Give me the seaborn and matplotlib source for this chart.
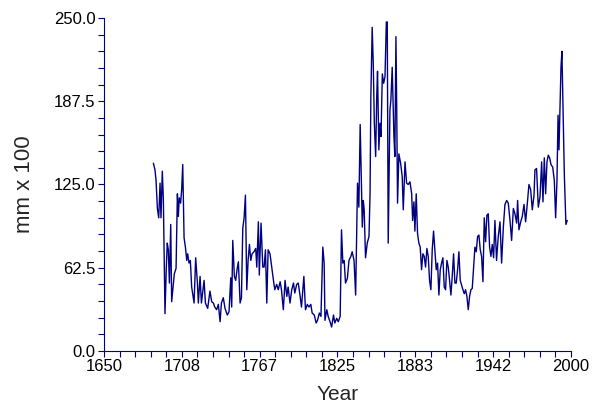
import numpy as np
import pandas as pd
import seaborn as sns
import matplotlib.pyplot as plt

# values (year, mm x 100)
year = [1687.0, 1688.2, 1689.0, 1690.0, 1691.0, 1692.0, 1692.7, 1693.7, 1694.5, 1695.7,
        1696.7, 1697.4, 1698.2, 1699.0, 1700.0, 1700.7, 1702.0, 1702.7, 1704.0, 1705.0,
        1705.7, 1706.4, 1707.4, 1708.2, 1709.0, 1710.0, 1711.0, 1712.0, 1712.7, 1713.7,
        1714.7, 1715.7, 1717.5, 1718.7, 1720.0, 1720.7, 1722.0, 1723.0, 1725.0, 1726.0,
        1727.7, 1729.4, 1730.7, 1732.0, 1733.0, 1734.4, 1735.7, 1737.0, 1738.0, 1739.4,
        1740.7, 1742.4, 1743.7, 1745.0, 1745.7, 1746.5, 1747.7, 1748.7, 1749.7, 1750.7,
        1752.0, 1753.0, 1754.0, 1755.0, 1756.0, 1757.0, 1758.0, 1759.0, 1760.0, 1761.0,
        1762.4, 1763.7, 1764.5, 1765.7, 1766.4, 1767.7, 1769.0, 1770.0, 1771.0, 1772.0,
        1773.0, 1774.4, 1775.7, 1777.0, 1778.0, 1779.4, 1780.6, 1782.0, 1783.0, 1784.4,
        1785.7, 1787.0, 1788.0, 1789.4, 1790.7, 1792.0, 1793.0, 1794.4, 1795.6, 1797.0,
        1798.0, 1799.8, 1801.0, 1802.4, 1803.6, 1805.0, 1806.0, 1807.6, 1809.0, 1810.0,
        1811.4, 1812.6, 1814.0, 1815.0, 1815.6, 1817.0, 1818.0, 1819.4, 1820.6, 1822.0,
        1823.0, 1824.4, 1825.6, 1827.0, 1828.0, 1829.0, 1830.0, 1831.0, 1832.4, 1833.6,
        1835.0, 1836.0, 1837.4, 1838.6, 1840.0, 1841.0, 1842.0, 1842.6, 1843.6, 1844.3,
        1845.0, 1846.0, 1847.3, 1848.6, 1849.4, 1850.0, 1851.0, 1851.8, 1852.6, 1853.6,
        1854.4, 1855.0, 1856.0, 1856.8, 1857.6, 1858.6, 1859.6, 1860.6, 1861.6, 1862.3,
        1863.0, 1864.3, 1865.0, 1866.0, 1867.3, 1868.0, 1868.8, 1869.4, 1870.0, 1871.0,
        1872.3, 1873.5, 1874.3, 1875.6, 1876.8, 1878.0, 1879.3, 1880.6, 1881.3, 1882.3,
        1883.0, 1884.0, 1885.0, 1886.0, 1887.0, 1888.0, 1889.0, 1890.0, 1891.0, 1892.0,
        1893.0, 1894.0, 1895.0, 1896.0, 1897.0, 1898.0, 1899.0, 1900.0, 1901.0, 1902.0,
        1903.0, 1904.0, 1905.0, 1906.0, 1907.0, 1908.0, 1909.0, 1910.0, 1911.0, 1912.0,
        1913.0, 1914.0, 1915.0, 1916.0, 1917.0, 1918.0, 1919.0, 1920.0, 1921.0, 1922.0,
        1923.0, 1924.0, 1925.0, 1926.0, 1927.0, 1928.0, 1929.0, 1930.0, 1931.0, 1932.0,
        1933.0, 1934.0, 1935.0, 1936.0, 1937.0, 1938.0, 1939.0, 1940.0, 1941.0, 1942.0,
        1943.0, 1944.2, 1945.5, 1946.8, 1948.0, 1949.3, 1950.5, 1951.8, 1953.0, 1954.3,
        1955.5, 1956.8, 1958.0, 1959.3, 1960.0, 1961.0, 1962.3, 1963.5, 1964.8, 1966.0,
        1967.3, 1968.5, 1969.8, 1971.0, 1972.3, 1973.0, 1974.2, 1975.5, 1976.8, 1978.0,
        1979.0, 1980.0, 1981.0, 1982.0, 1983.0, 1984.0, 1985.0, 1986.3, 1987.5, 1988.5,
        1989.5, 1990.3, 1991.0, 1991.8, 1992.5, 1993.2, 1994.0, 1995.0, 1996.2, 1997.2]

value = [141, 136, 128, 107, 100, 126, 100, 135, 113, 28,
         63, 81, 76, 51, 95, 37, 51, 58, 62, 118,
         101, 115, 111, 121, 140, 85, 78, 68, 73, 66,
         68, 48, 36, 70, 51, 36, 56, 36, 53, 36,
         32, 45, 37, 36, 33, 31, 35, 22, 36, 40,
         32, 27, 29.5, 55, 33, 83, 56, 53, 61, 67,
         36, 40, 92, 100, 117, 46, 68, 80, 68, 73,
         74.5, 77, 63, 97, 57, 96, 63, 63, 76, 36,
         76, 73, 63, 53, 46, 50, 46, 52, 46, 31,
         53, 41, 48, 36, 46, 51, 43.5, 50, 51, 41,
         33, 56, 31, 35, 33, 35, 28.5, 27, 21, 23,
         28.5, 26, 78, 66, 23, 31, 26, 22, 18, 27,
         21, 24.5, 22, 26, 91, 66, 68, 51, 54.5, 68,
         71, 74.5, 68, 42, 126, 108, 170, 141, 93, 113,
         106, 70, 81, 86, 118, 191, 243, 216, 171, 146,
         191, 210, 151, 171, 161, 208, 201, 206, 247, 247,
         81, 181, 188, 213, 161, 146, 236, 181, 111, 148,
         141, 131, 106, 142, 126, 125, 127, 118, 98, 112,
         90, 118, 88, 81, 78, 61, 73, 71, 63, 77,
         71, 53, 46, 76, 90, 76, 61, 66, 42, 61,
         66, 70, 48, 46, 68, 63, 53, 42, 56, 73,
         51, 51, 61, 74.5, 53, 49.5, 46, 43, 46, 41,
         31, 41, 46, 47, 63, 78, 74.5, 86, 87, 76,
         71, 52, 100, 82, 102, 103, 78, 71, 80, 70,
         98, 68, 86, 97, 66, 93, 110, 113, 111, 98,
         83, 107, 103, 96, 113, 91, 97, 101, 110, 97,
         111, 125, 121, 106, 117, 136, 137, 108, 116, 142,
         112, 145, 118, 142, 147, 145, 140, 138, 128, 100,
         128, 177, 151, 183, 213, 225, 183, 133, 95, 98]

x_ticks = [1650, 1708.33, 1766.67, 1825, 1883.33, 1941.67, 2000]
x_labels = ['1650', '1708', '1767', '1825', '1883', '1942', '2000']
y_ticks = [0, 62.5, 125, 187.5, 250]
y_labels = ['0.0', '62.5', '125.0', '187.5', '250.0']

df = pd.DataFrame({'year': year, 'value': value})

sns.set_style("white")
plt.rcParams['font.family'] = ['Liberation Sans', 'DejaVu Sans']
navy = '#000080'

fig = plt.figure(figsize=(5.92, 4.07), dpi=100)
ax = fig.add_axes([0.1757, 0.1376, 0.7888, 0.8182])

sns.lineplot(data=df, x='year', y='value', color=navy, linewidth=1.0,
             estimator=None, ax=ax)

ax.set_xlim(1650, 2000)
ax.set_ylim(0, 250)
ax.set_xticks(x_ticks)
ax.set_xticklabels(x_labels)
ax.set_yticks(y_ticks)
ax.set_yticklabels(y_labels)
ax.set_xticks(np.linspace(1650, 2000, 31), minor=True)
ax.set_yticks(np.linspace(0, 250, 21), minor=True)

ax.tick_params(which='both', direction='out', color=navy, width=0.8,
               bottom=True, left=True, labelsize=12, labelcolor='black')
ax.tick_params(which='major', length=4.5, pad=1.5)
ax.tick_params(which='minor', length=4)

sns.despine(ax=ax)
for s in ['left', 'bottom']:
    ax.spines[s].set_color(navy)
    ax.spines[s].set_linewidth(0.8)

ax.set_xlabel('Year', fontsize=15, labelpad=8)
ax.set_ylabel('mm x 100', fontsize=16, labelpad=14)

fig.savefig('out.png', dpi=100)
